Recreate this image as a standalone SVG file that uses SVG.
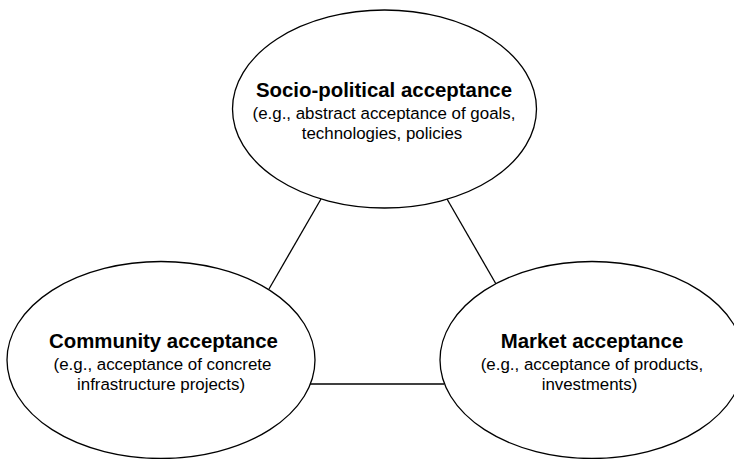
<svg xmlns="http://www.w3.org/2000/svg" width="734" height="459" viewBox="0 0 734 459">
  <style>
    .node ellipse { fill: #ffffff; stroke: #000000; stroke-width: 1.3; }
    .links line { stroke: #000000; stroke-width: 1.3; }
    text { font-family: "Liberation Sans", Arial, sans-serif; fill: #000000; text-anchor: middle; }
    .title { font-size: 20.4px; font-weight: bold; }
    .sub { font-size: 16.9px; }
  </style>
  <rect width="734" height="459" fill="#ffffff"/>

  <!-- connectors between the three acceptance dimensions -->
  <g id="connectors" class="links">
    <line x1="321" y1="199" x2="269" y2="289"/>
    <line x1="447" y1="199" x2="496" y2="284"/>
    <line x1="310" y1="384" x2="444" y2="384"/>
  </g>

  <g id="socio-political" class="node">
    <ellipse cx="384.5" cy="109" rx="152" ry="99"/>
    <text class="title" x="384" y="97">Socio-political acceptance</text>
    <text class="sub" x="384" y="119">(e.g., abstract acceptance of goals,</text>
    <text class="sub" x="382" y="139">technologies, policies</text>
  </g>

  <g id="community" class="node">
    <ellipse cx="161" cy="360" rx="154" ry="98.5"/>
    <text class="title" x="163.5" y="348">Community acceptance</text>
    <text class="sub" x="162.5" y="370">(e.g., acceptance of concrete</text>
    <text class="sub" x="161" y="390">infrastructure projects)</text>
  </g>

  <g id="market" class="node">
    <ellipse cx="592" cy="360" rx="152" ry="98.5"/>
    <text class="title" x="592" y="348">Market acceptance</text>
    <text class="sub" x="592" y="370">(e.g., acceptance of products,</text>
    <text class="sub" x="589.5" y="390">investments)</text>
  </g>
</svg>
